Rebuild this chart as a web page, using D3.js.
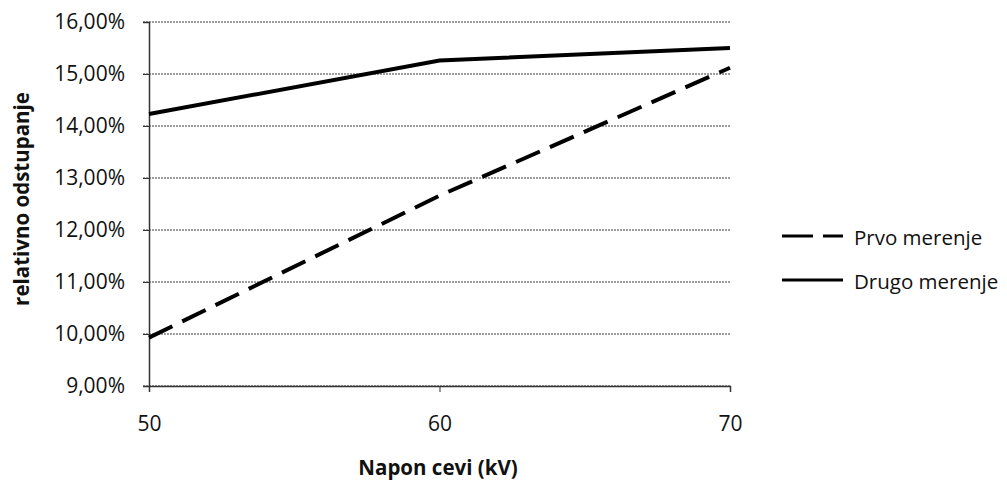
<!DOCTYPE html>
<html>
<head>
<meta charset="utf-8">
<script src="https://cdn.jsdelivr.net/npm/d3@7"></script>
<style>
  html, body { margin: 0; padding: 0; background: #fff; }
  svg text { font-family: "Open Sans", Lato, "Liberation Sans", sans-serif; fill: #111; }
</style>
</head>
<body>
<svg id="chart" width="1007" height="485"></svg>
<script>
// Napon cevi (kV)
const voltages = [50, 60, 70];
// relativno odstupanje (%)
const prvoMerenje = [9.93, 12.66, 15.12];
const drugoMerenje = [14.23, 15.26, 15.50];
const yTicks = [9, 10, 11, 12, 13, 14, 15, 16];
const xTicks = [50, 60, 70];
const seriesNames = ["Prvo merenje", "Drugo merenje"];

const svg = d3.select("#chart");
const plotLeft = 149, plotRight = 730, plotTop = 22, plotBottom = 386;
const tickFont = 21;

const x = d3.scaleLinear().domain([50, 70]).range([plotLeft, plotRight]);
const y = d3.scaleLinear().domain([9, 16]).range([plotBottom, plotTop]);
const fmt = v => v.toFixed(2).replace(".", ",") + "%";

// horizontal gridlines
svg.append("g")
  .selectAll("line")
  .data(yTicks)
  .join("line")
  .attr("x1", plotLeft - 6).attr("x2", plotRight)
  .attr("y1", d => y(d)).attr("y2", d => y(d))
  .attr("stroke", "#3a3a3a")
  .attr("stroke-width", 1)
  .attr("stroke-dasharray", "2,1");

// y axis
const yAxis = svg.append("g")
  .attr("transform", `translate(${plotLeft},0)`)
  .call(d3.axisLeft(y).tickValues(yTicks).tickFormat(fmt).tickSize(6).tickPadding(18))
  .attr("font-size", tickFont)
  .attr("font-family", "Open Sans");
yAxis.select(".domain").attr("stroke", "#333").attr("stroke-width", 1.5);
yAxis.selectAll(".tick line").attr("stroke", "#333");
yAxis.selectAll("text").attr("fill", "#111");

// x axis
const xAxis = svg.append("g")
  .attr("transform", `translate(0,${plotBottom})`)
  .call(d3.axisBottom(x).tickValues(xTicks).tickFormat(d3.format("d")).tickSize(6).tickPadding(24))
  .attr("font-size", tickFont)
  .attr("font-family", "Open Sans");
xAxis.select(".domain").attr("stroke", "#333").attr("stroke-width", 1.5);
xAxis.selectAll(".tick line").attr("stroke", "#333");
xAxis.selectAll("text").attr("fill", "#111");

// axis titles
svg.append("text")
  .attr("x", 438).attr("y", 475)
  .attr("text-anchor", "middle")
  .attr("font-size", 20.5).attr("font-weight", "bold")
  .text("Napon cevi (kV)");
svg.append("text")
  .attr("transform", "translate(29,199) rotate(-90)")
  .attr("text-anchor", "middle")
  .attr("font-size", 20.5).attr("font-weight", "bold")
  .text("relativno odstupanje");

// series
const line = d3.line().x(d => x(d[0])).y(d => y(d[1]));
const series = [
  { name: seriesNames[0], values: prvoMerenje, dash: "26,11", width: 4 },
  { name: seriesNames[1], values: drugoMerenje, dash: null, width: 4 }
];
series.forEach(s => {
  svg.append("path")
    .datum(voltages.map((v, i) => [v, s.values[i]]))
    .attr("d", line)
    .attr("fill", "none")
    .attr("stroke", "#000")
    .attr("stroke-width", s.width)
    .attr("stroke-dasharray", s.dash);
});

// legend
const legend = svg.append("g").attr("transform", "translate(782,236)");
series.forEach((s, i) => {
  const g = legend.append("g").attr("transform", `translate(0,${i * 44})`);
  g.append("line")
    .attr("x1", 0).attr("x2", 61).attr("y1", 0).attr("y2", 0)
    .attr("stroke", "#000").attr("stroke-width", 3)
    .attr("stroke-dasharray", s.dash ? "31,10" : null);
  g.append("text")
    .attr("x", 72).attr("y", 9)
    .attr("font-size", 20.5)
    .text(s.name);
});
</script>
</body>
</html>
